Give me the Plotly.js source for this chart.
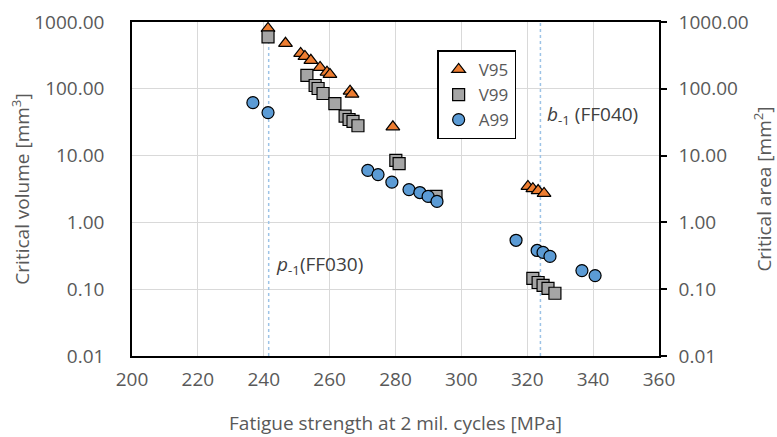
<!DOCTYPE html>
<html><head><meta charset="utf-8">
<script src="https://cdn.plot.ly/plotly-3.0.1.min.js"></script>
<style>html,body{margin:0;padding:0;background:#fff}#chart{width:777px;height:437px}</style>
</head><body><div id="chart"></div>
<script>
// V95 (triangles)
const v95_x = [241.3, 246.6, 251.2, 252.5, 254.3, 257.1, 259.2, 260.1, 266.2, 266.8, 279.2, 320.2, 321.7, 323.3, 325.1];
const v95_y = [800, 480, 339, 305, 267, 209, 177, 164, 92, 83, 27, 3.46, 3.2, 3.0, 2.72];
// V99 (squares)
const v99_x = [241.3, 253.1, 255.6, 256.5, 258.0, 261.6, 264.7, 265.9, 267.1, 268.6, 280.1, 281.1, 292.3, 321.7, 323.3, 324.8, 326.3, 328.4];
const v99_y = [600, 159, 112, 101, 85, 60, 39, 34.7, 32.5, 28, 8.5, 7.6, 2.45, 0.145, 0.126, 0.114, 0.103, 0.087];
// A99 (circles)
const a99_x = [236.7, 241.3, 271.6, 274.7, 278.9, 284.1, 287.4, 289.9, 292.6, 316.6, 323.0, 324.8, 326.9, 336.6, 340.6];
const a99_y = [62, 44, 6.0, 5.2, 4.0, 3.1, 2.8, 2.45, 2.06, 0.54, 0.38, 0.355, 0.31, 0.19, 0.16];
// reference lines p-1 (FF030) and b-1 (FF040)
const refLineX = [241.5, 324.0];
const refLineY = [0.01, 1000];
const yTicks = [0.01, 0.1, 1, 10, 100, 1000];
const xTicks = [200, 220, 240, 260, 280, 300, 320, 340, 360];

const fontFam = '"Open Sans", sans-serif';
const grey = '#595959';
const traces = [];
refLineX.forEach(function (xv) {
  traces.push({x: [xv, xv], y: refLineY, mode: 'lines', showlegend: false, hoverinfo: 'skip',
    line: {color: '#9dc3e6', width: 1.5, dash: 'dot'}});
});
traces.push({x: v95_x, y: v95_y, name: 'V95', mode: 'markers',
  marker: {symbol: 'triangle-up', size: 12, color: '#ed7d31', line: {color: '#000', width: 1.2}}});
traces.push({x: v99_x, y: v99_y, name: 'V99', mode: 'markers',
  marker: {symbol: 'square', size: 12, color: '#a5a5a5', line: {color: '#000', width: 1.2}}});
traces.push({x: a99_x, y: a99_y, name: 'A99', mode: 'markers',
  marker: {symbol: 'circle', size: 12, color: '#5b9bd5', line: {color: '#000', width: 1.2}}});

const layout = {
  width: 777, height: 437,
  margin: {l: 132, r: 118, t: 22, b: 81},
  paper_bgcolor: '#fff', plot_bgcolor: '#fff',
  font: {family: fontFam, color: grey, size: 19},
  showlegend: true,
  legend: {x: 0.579, y: 0.915, xanchor: 'left', yanchor: 'top', bgcolor: '#fff',
    bordercolor: '#000', borderwidth: 1.5, font: {size: 17, color: grey},
    itemwidth: 30, tracegroupgap: 0},
  xaxis: {range: [200, 360], tickvals: xTicks, ticktext: xTicks.map(String),
    showgrid: true, gridcolor: '#d9d9d9', gridwidth: 1.3, zeroline: false,
    showline: true, linecolor: '#000', linewidth: 1.5, mirror: true, ticks: '',
    ticklabelstandoff: 5,
    title: {text: 'Fatigue strength at 2 mil. cycles [MPa]', standoff: 26, font: {size: 19, color: grey}}},
  yaxis: {type: 'log', range: [-2, 3], tickvals: yTicks, tickformat: '.2f',
    showgrid: true, gridcolor: '#d9d9d9', gridwidth: 1.3, zeroline: false,
    showline: true, linecolor: '#000', linewidth: 1.5, ticks: '', ticklabelstandoff: 22,
    title: {text: 'Critical volume [mm<sup>3</sup>]', standoff: 0, font: {size: 19, color: grey}}},
  yaxis2: {type: 'log', range: [-2, 3], tickvals: yTicks, tickformat: '.2f', overlaying: 'y', side: 'right',
    showgrid: false, zeroline: false, showline: true, linecolor: '#000', linewidth: 1.5,
    ticks: 'outside', ticklen: 6, tickcolor: '#000', tickwidth: 1.5, ticklabelstandoff: 8,
    title: {text: 'Critical area [mm<sup>2</sup>]', standoff: 12, font: {size: 19, color: grey}}},
  annotations: [
    {x: 243, y: Math.log10(0.23), xref: 'x', yref: 'y', xanchor: 'left', yanchor: 'middle', showarrow: false,
      text: '<i>p</i><sub>-1</sub>(FF030)', font: {size: 19, color: '#404040'}},
    {x: 325.5, y: Math.log10(40), xref: 'x', yref: 'y', xanchor: 'left', yanchor: 'middle', showarrow: false,
      text: '<i>b</i><sub>-1</sub> (FF040)', font: {size: 19, color: '#404040'}}
  ]
};
// anchor a hidden trace on y2 so the right axis is drawn
traces.push({x: [refLineX[0]], y: [refLineY[1]], yaxis: 'y2', mode: 'markers', showlegend: false,
  hoverinfo: 'skip', marker: {opacity: 0}});
Plotly.newPlot('chart', traces, layout, {displayModeBar: false});
</script></body></html>
